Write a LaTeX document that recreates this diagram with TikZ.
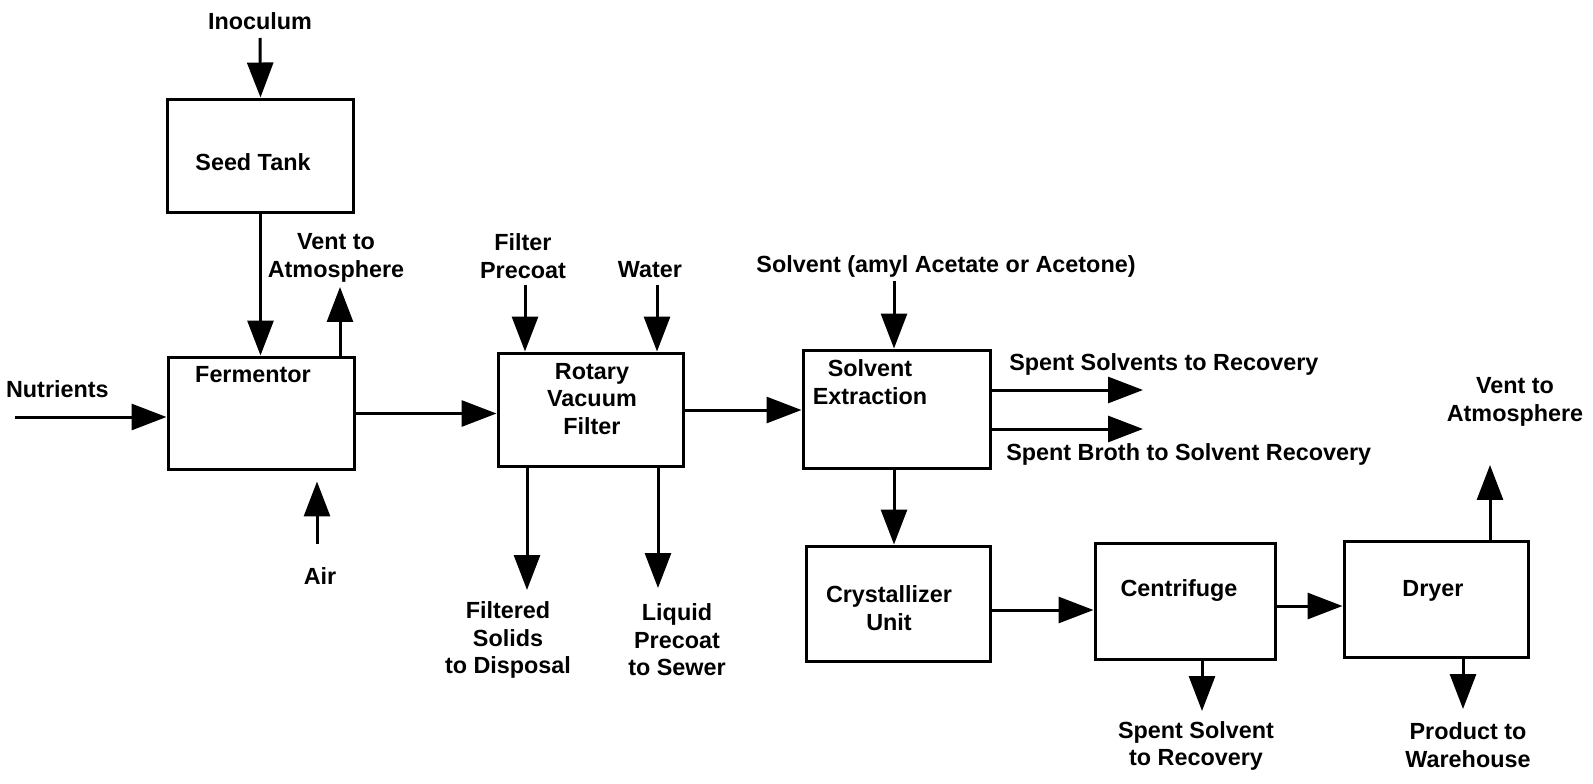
\documentclass[tikz,border=0pt]{standalone}
\usepackage{fontspec}
\setmainfont{Liberation Sans}
\usetikzlibrary{arrows.meta}

\begin{document}
\begin{tikzpicture}[x=0.02cm,y=-0.02cm,
  unitbox/.style={draw, line width=0.06cm, inner sep=0pt},
  lbl/.style={font=\fontsize{13.3}{15.6}\selectfont\bfseries, inner sep=0pt, align=center},
  flow/.style={line width=0.06cm, -{Triangle[length=0.7cm,width=0.52cm]}}]
\useasboundingbox (0,0) rectangle (1593,784);

% process units
\node[unitbox, minimum width=3.74cm, minimum height=2.28cm] (seedtank) at (260.5,156) {};
\node[unitbox, minimum width=3.74cm, minimum height=2.26cm] (fermentor) at (261.5,413.5) {};
\node[unitbox, minimum width=3.72cm, minimum height=2.28cm] (rvfilter) at (591,410) {};
\node[unitbox, minimum width=3.76cm, minimum height=2.38cm] (extraction) at (897,409.5) {};
\node[unitbox, minimum width=3.70cm, minimum height=2.32cm] (crystallizer) at (898.5,604) {};
\node[unitbox, minimum width=3.62cm, minimum height=2.34cm] (centrifuge) at (1185.5,601.5) {};
\node[unitbox, minimum width=3.70cm, minimum height=2.34cm] (dryer) at (1436.5,599.5) {};

% unit labels
\node[lbl] (seedtank-lbl) at (253,162) {Seed Tank};
\node[lbl] (fermentor-lbl) at (253,375) {Fermentor};
\node[lbl] (rvfilter-lbl) at (592,399) {Rotary\\Vacuum\\Filter};
\node[lbl] (extraction-lbl) at (870,382) {Solvent\\Extraction};
\node[lbl] (crystallizer-lbl) at (889,608) {Crystallizer\\Unit};
\node[lbl] (centrifuge-lbl) at (1179,591) {Centrifuge};
\node[lbl] (dryer-lbl) at (1433,591) {Dryer};

% stream labels
\node[lbl] (inoculum) at (260,21) {Inoculum};
\node[lbl] (vent1) at (336,258) {Vent to\\Atmosphere};
\node[lbl, anchor=east] (nutrients) at (109,389) {Nutrients};
\node[lbl] (air) at (320,576) {Air};
\node[lbl] (precoat) at (523,256) {Filter\\Precoat};
\node[lbl] (water) at (650,270) {Water};
\node[lbl] (solids) at (508,640) {Filtered\\Solids\\to Disposal};
\node[lbl] (sewer) at (677,640) {Liquid\\Precoat\\to Sewer};
\node[lbl] (solvent) at (946,266) {Solvent (amyl Acetate or Acetone)};
\node[lbl, anchor=west] (spentsolv) at (1009,364) {Spent Solvents to Recovery};
\node[lbl, anchor=west] (spentbroth) at (1006,454) {Spent Broth to Solvent Recovery};
\node[lbl] (recovery) at (1196,746) {Spent Solvent\\to Recovery};
\node[lbl] (product) at (1468,745) {Product to\\Warehouse};
\node[lbl] (vent2) at (1515,402) {Vent to\\Atmosphere};

% free ends of the streams
\coordinate (inoculum-in) at (260,38);
\coordinate (vent1-out) at (340,287);
\coordinate (nutrients-in) at (15,417);
\coordinate (air-in) at (317,544);
\coordinate (precoat-in) at (525,285);
\coordinate (water-in) at (657,285);
\coordinate (solids-out) at (527,590);
\coordinate (sewer-out) at (658,588);
\coordinate (solvent-in) at (894,281);
\coordinate (spentsolv-out) at (1143,390);
\coordinate (spentbroth-out) at (1143,429);
\coordinate (recovery-out) at (1202,711);
\coordinate (product-out) at (1463,709);
\coordinate (vent2-out) at (1490,465);

% main line
\draw[flow] (inoculum-in) -- (seedtank.north);
\draw[flow] (seedtank.south) -- (fermentor.north -| seedtank.south);
\draw[flow] (fermentor.north -| vent1-out) -- (vent1-out);
\draw[flow] (nutrients-in) -- (fermentor.west |- nutrients-in);
\draw[flow, shorten >=0.2cm] (air-in) -- (fermentor.south -| air-in);
\draw[flow] (fermentor.east) -- (rvfilter.west |- fermentor.east);
\draw[flow] (precoat-in) -- (rvfilter.north -| precoat-in);
\draw[flow] (water-in) -- (rvfilter.north -| water-in);
\draw[flow] (rvfilter.south -| solids-out) -- (solids-out);
\draw[flow] (rvfilter.south -| sewer-out) -- (sewer-out);
\draw[flow] (rvfilter.east) -- (extraction.west |- rvfilter.east);
\draw[flow] (solvent-in) -- (extraction.north -| solvent-in);
\draw[flow] (extraction.east |- spentsolv-out) -- (spentsolv-out);
\draw[flow] (extraction.east |- spentbroth-out) -- (spentbroth-out);
\draw[flow] (extraction.south -| solvent-in) -- (crystallizer.north -| solvent-in);
\draw[flow] ([yshift=-0.12cm]crystallizer.east) -- ([yshift=-0.12cm]centrifuge.west |- crystallizer.east);
\draw[flow] ([yshift=-0.09cm]centrifuge.east) -- ([yshift=-0.09cm]dryer.west |- centrifuge.east);
\draw[flow] (centrifuge.south -| recovery-out) -- (recovery-out);
\draw[flow] (dryer.south -| product-out) -- (product-out);
\draw[flow] (dryer.north -| vent2-out) -- (vent2-out);
\end{tikzpicture}
\end{document}
